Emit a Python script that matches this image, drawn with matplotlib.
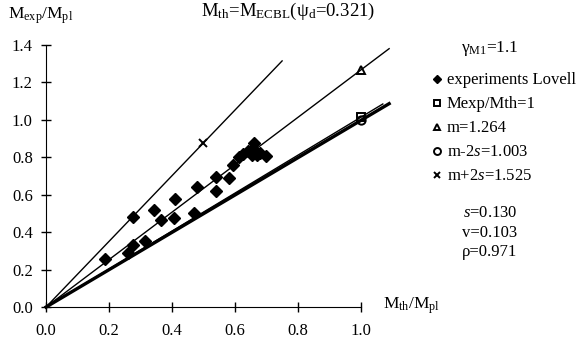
import matplotlib.pyplot as plt
from matplotlib.lines import Line2D
import numpy as np

plt.rcParams['font.family'] = ['Liberation Serif', 'DejaVu Serif']
plt.rcParams['mathtext.fontset'] = 'custom'
plt.rcParams['mathtext.rm'] = 'Liberation Serif'
plt.rcParams['mathtext.it'] = 'Liberation Serif:italic'

# experimental points (Mth/Mpl, Mexp/Mpl)
exp_x = [0.187, 0.275, 0.277, 0.261, 0.314, 0.344, 0.365, 0.410, 0.406, 0.470,
         0.480, 0.540, 0.540, 0.581, 0.595, 0.614, 0.626, 0.642, 0.661, 0.658,
         0.669, 0.680, 0.698, 0.653]
exp_y = [0.254, 0.478, 0.331, 0.290, 0.352, 0.517, 0.464, 0.574, 0.476, 0.503,
         0.642, 0.619, 0.695, 0.690, 0.756, 0.800, 0.814, 0.834, 0.873, 0.843,
         0.810, 0.820, 0.805, 0.810]

# reference lines: slope, end of line, marker position on x
line_names = ['Mexp/Mth=1', 'm=1.264', 'm-2s=1.003', 'm+2s=1.525']
line_slopes = [1.012, 1.264, 0.995, 1.75]
line_ends = [1.07, 1.09, 1.09, 0.75]
line_widths = [1.0, 1.0, 2.4, 1.0]
marker_x = [1.0, 1.0, 1.0, 0.5]
markers = ['s', '^', 'o', 'x']

fig = plt.figure(figsize=(5.79, 3.45), dpi=100)
ax = fig.add_axes([0.0795, 0.110, 0.598, 0.761])

for k in range(len(line_slopes)):
    xs = np.array([0, line_ends[k]])
    ax.plot(xs, line_slopes[k] * xs, color='black', lw=line_widths[k], clip_on=False)
    ax.plot(marker_x[k], line_slopes[k] * marker_x[k], marker=markers[k],
            ms=6, mfc='none', mec='black', mew=1.4, clip_on=False)

ax.plot(exp_x, exp_y, 'D', color='black', ms=6.5, clip_on=False)

ax.set_xlim(0, 1.1)
ax.set_ylim(0, 1.4)
ax.set_xticks([0.0, 0.2, 0.4, 0.6, 0.8, 1.0])
ax.set_yticks([0.0, 0.2, 0.4, 0.6, 0.8, 1.0, 1.2, 1.4])
ax.xaxis.set_major_formatter(plt.FormatStrFormatter('%.1f'))
ax.yaxis.set_major_formatter(plt.FormatStrFormatter('%.1f'))
ax.spines['top'].set_visible(False)
ax.spines['right'].set_visible(False)
ax.spines['bottom'].set_bounds(0, 1.0)
ax.tick_params(direction='inout', length=7, width=1, labelsize=12, pad=6)
ax.tick_params(axis='x', pad=8)

fig.text(0.014, 0.945, r'M$_{\mathrm{exp}}$/M$_{\mathrm{pl}}$', fontsize=12.5)
fig.text(0.661, 0.105, r'M$_{\mathrm{th}}$/M$_{\mathrm{pl}}$', fontsize=12.5)
fig.text(0.497, 0.955, r'M$_{\mathrm{th}}$=M$_{\mathrm{ECBL}}$($\mathrm{\psi}_{\mathrm{d}}$=0.321)',
         fontsize=13.5, ha='center')
fig.text(0.846, 0.85, r'$\mathrm{\gamma}_{\mathrm{M1}}$=1.1', fontsize=12.5, ha='center')

handles = [Line2D([], [], ls='none', marker='D', color='black', ms=4)]
for k in range(len(line_names)):
    handles.append(Line2D([], [], ls='none', marker=markers[k], mfc='none',
                          mec='black', mew=1.4, ms=5))
labels = ['experiments Lovell', 'Mexp/Mth=1', 'm=1.264', r'm-2$s$=1.003', r'm+2$s$=1.525']
fig.legend(handles, labels, loc='upper left', bbox_to_anchor=(0.746, 0.79),
           frameon=False, fontsize=12, handlelength=0.6, handletextpad=0.3,
           labelspacing=0.48, borderpad=0, borderaxespad=0)

fig.text(0.846, 0.405, '$s$=0.130\nv=0.103\nρ=0.971', fontsize=12, ha='center',
         va='top', linespacing=1.3)

fig.savefig('out.png', dpi=100)
